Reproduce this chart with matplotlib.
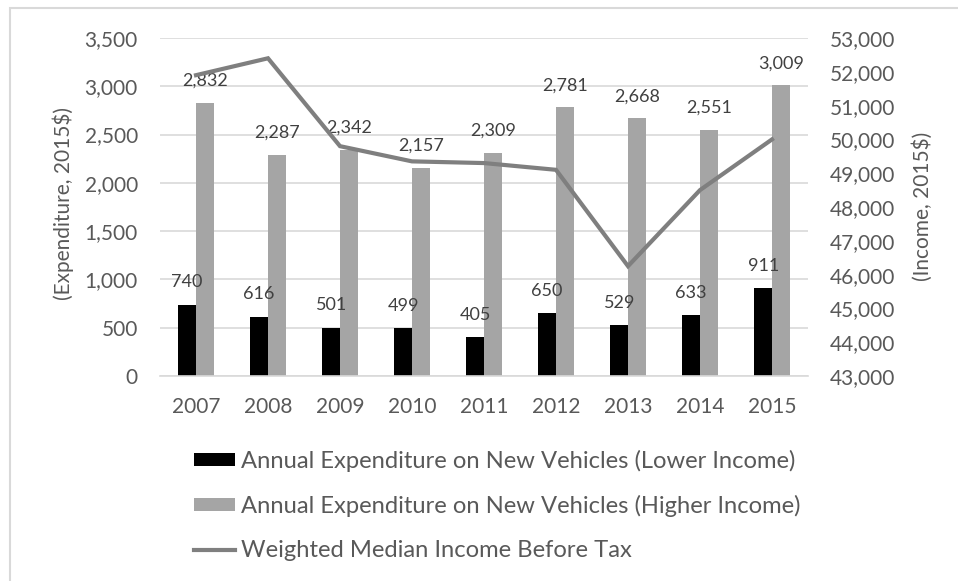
import matplotlib
matplotlib.use("Agg")
import matplotlib.pyplot as plt
import numpy as np
from matplotlib.patches import Rectangle

years = ["2007", "2008", "2009", "2010", "2011", "2012", "2013", "2014", "2015"]
lower_income = [740, 616, 501, 499, 405, 650, 529, 633, 911]
higher_income = [2832, 2287, 2342, 2157, 2309, 2781, 2668, 2551, 3009]
median_income = [51900, 52400, 49800, 49350, 49300, 49100, 46250, 48500, 50000]

label_lower = "Annual Expenditure on New Vehicles (Lower Income)"
label_higher = "Annual Expenditure on New Vehicles (Higher Income)"
label_line = "Weighted Median Income Before Tax"

plt.rcParams['font.family'] = ['Lato', 'DejaVu Sans']
TXT = '#595959'
LBL = '#404040'
GRID = '#d9d9d9'

W, H = 958, 581
fig = plt.figure(figsize=(W / 100, H / 100), dpi=100)

# outer chart border (cropped at right/bottom)
fig.patches.append(Rectangle((10 / W, -0.1), 1.2, 1 - 8 / H + 0.1, transform=fig.transFigure,
                             fill=False, edgecolor=GRID, linewidth=1.5))

ax = fig.add_axes([160 / W, 1 - 376 / H, (808 - 160) / W, (376 - 38) / H])
ax2 = ax.twinx()

x = np.arange(len(years))
bw = 0.245
b1 = ax.bar(x - bw / 2, lower_income, bw, color='black', label=label_lower, zorder=2)
b2 = ax.bar(x + bw / 2, higher_income, bw, color='#a5a5a5', label=label_higher, zorder=2)

for xi, v in zip(x - bw / 2, lower_income):
    ax.annotate(f"{v:,}", (xi, v), xytext=(0, 16), textcoords='offset points',
                ha='center', va='center', fontsize=13, color=LBL)
for xi, v in zip(x + bw / 2, higher_income):
    ax.annotate(f"{v:,}", (xi, v), xytext=(0, 16), textcoords='offset points',
                ha='center', va='center', fontsize=13, color=LBL)

ax.set_xlim(-0.5, len(years) - 0.5)
ax.set_ylim(0, 3500)
ax.set_yticks(np.arange(0, 3501, 500))
ax.set_yticklabels([f"{v:,}" for v in np.arange(0, 3501, 500)])
ax.set_xticks(x)
ax.set_xticklabels(years)
ax.yaxis.grid(True, color=GRID, linewidth=1.2, zorder=0)
ax.set_axisbelow(True)
for s in ['top', 'right', 'left']:
    ax.spines[s].set_visible(False)
ax.spines['bottom'].set_color(GRID)
ax.spines['bottom'].set_linewidth(1.2)
ax.tick_params(axis='both', length=0, labelsize=15, colors=TXT)
ax.tick_params(axis='y', pad=16)
ax.tick_params(axis='x', pad=15)

line, = ax2.plot(x, median_income, color='#7f7f7f', linewidth=3, label=label_line,
                 solid_joinstyle='miter', zorder=3)
ax2.set_ylim(43000, 53000)
ax2.set_yticks(np.arange(43000, 53001, 1000))
ax2.set_yticklabels([f"{v:,}" for v in np.arange(43000, 53001, 1000)])
for s in ax2.spines.values():
    s.set_visible(False)
ax2.tick_params(axis='y', length=0, labelsize=15, colors=TXT, pad=16)

fig.text(63 / W, 1 - 203 / H, "(Expenditure, 2015$)", rotation=90, ha='center', va='center',
         fontsize=15, color=TXT)
fig.text(923 / W, 1 - 206 / H, "(Income, 2015$)", rotation=90, ha='center', va='center',
         fontsize=15, color=TXT)

leg = fig.legend(handles=[b1, b2, line], loc='upper left',
                 bbox_to_anchor=(189 / W, 1 - 445 / H), frameon=False, fontsize=17.1,
                 handlelength=1.72, handleheight=0.45, handletextpad=0.25, labelspacing=0.97,
                 borderaxespad=0, borderpad=0.2)
for t in leg.get_texts():
    t.set_color(TXT)

fig.savefig("out.png", dpi=100)
